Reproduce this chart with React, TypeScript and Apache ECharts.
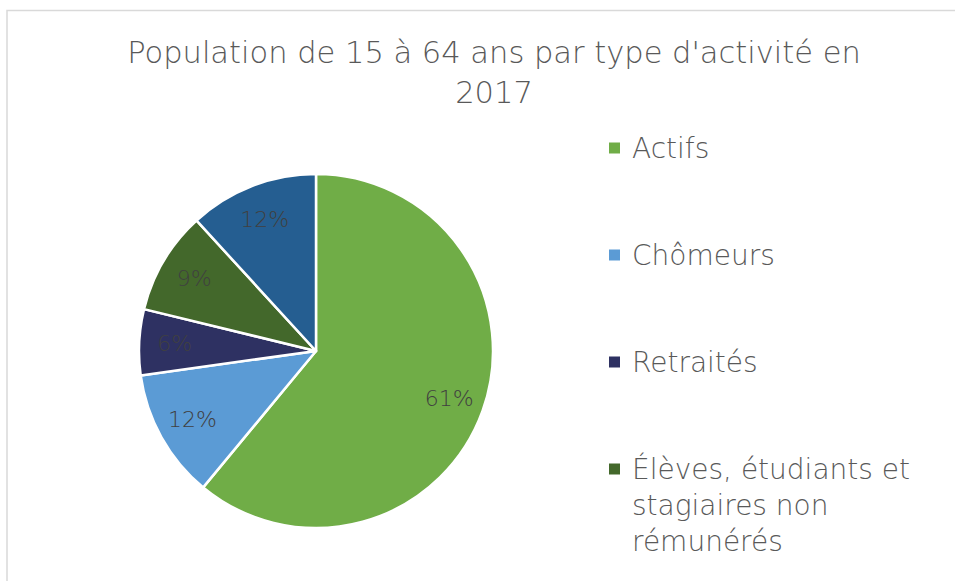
import React, { useEffect, useRef } from "react";
import * as echarts from "echarts";

const titleText = "Population de 15 à 64 ans par type d'activité en\n2017";
const categories = [
  "Actifs",
  "Chômeurs",
  "Retraités",
  "Élèves, étudiants et stagiaires non rémunérés",
  "Autres inactifs",
];
const values = [61.0, 11.8, 6.0, 9.4, 11.8];
const colors = ["#70AD47", "#5B9BD5", "#2E3162", "#43682B", "#255E91"];
const legendMain = ["Actifs", "Chômeurs", "Retraités"];
const legendWrapped = ["Élèves, étudiants et stagiaires non rémunérés"];
const wrappedLines: Record<string, string> = {
  "Élèves, étudiants et stagiaires non rémunérés": "Élèves, étudiants et\nstagiaires non\nrémunérés",
};

const FONT = "'DejaVu Sans', 'Open Sans', sans-serif";

export default function App() {
  const ref = useRef<HTMLDivElement>(null);
  useEffect(() => {
    if (!ref.current) return;
    const chart = echarts.init(ref.current, undefined, { renderer: "svg" });
    const data = categories.map((name, i) => ({
      name,
      value: values[i],
      itemStyle: { color: colors[i] },
    }));
    const legendText = {
      color: "#595959",
      fontFamily: FONT,
      fontWeight: 200,
      fontSize: 28,
      lineHeight: 36,
      padding: [0, 0, 0, 7],
    };
    chart.setOption({
      animation: false,
      backgroundColor: "#ffffff",
      title: {
        text: titleText,
        left: 489,
        top: 27,
        textAlign: "center",
        textStyle: {
          color: "#595959",
          fontFamily: FONT,
          fontWeight: 200,
          fontSize: 30.5,
          lineHeight: 40,
        },
      },
      legend: [
        {
          data: legendMain,
          orient: "vertical",
          left: 604,
          top: 125,
          itemGap: 71,
          itemWidth: 11,
          itemHeight: 11,
          icon: "rect",
          itemStyle: { borderWidth: 0 },
          textStyle: legendText,
          selectedMode: false,
        },
        {
          data: legendWrapped,
          orient: "vertical",
          left: 604,
          top: 374,
          itemWidth: 11,
          itemHeight: 11,
          icon: "rect",
          itemStyle: { borderWidth: 0 },
          formatter: (name: string) => "\n\n" + (wrappedLines[name] || name),
          textStyle: legendText,
          selectedMode: false,
        },
      ],
      graphic: [
        {
          type: "rect",
          shape: { x: 7, y: 10.5, width: 1000, height: 700 },
          style: { fill: "none", stroke: "#D9D9D9", lineWidth: 1.5 },
          silent: true,
        },
      ],
      series: [
        {
          type: "pie",
          center: [316, 351],
          radius: [0, 177],
          startAngle: 90,
          clockwise: true,
          data,
          label: { show: false },
          labelLine: { show: false },
          itemStyle: { borderColor: "#ffffff", borderWidth: 2.5 },
          emphasis: { disabled: true },
        },
        {
          type: "pie",
          center: [316, 351],
          radius: [100, 177],
          startAngle: 90,
          clockwise: true,
          silent: true,
          data: categories.map((name, i) => ({ name, value: values[i] })),
          itemStyle: { color: "rgba(0,0,0,0)", borderWidth: 0 },
          label: {
            show: true,
            position: "inside",
            formatter: (p: any) => Math.round(p.value) + "%",
            color: "#404040",
            fontFamily: FONT,
            fontWeight: 200,
            fontSize: 22,
          },
          labelLine: { show: false },
          emphasis: { disabled: true },
        },
      ],
    });
    return () => chart.dispose();
  }, []);
  return (
    <div
      ref={ref}
      style={{ position: "fixed", left: 0, top: 0, width: 955, height: 581 }}
    />
  );
}
